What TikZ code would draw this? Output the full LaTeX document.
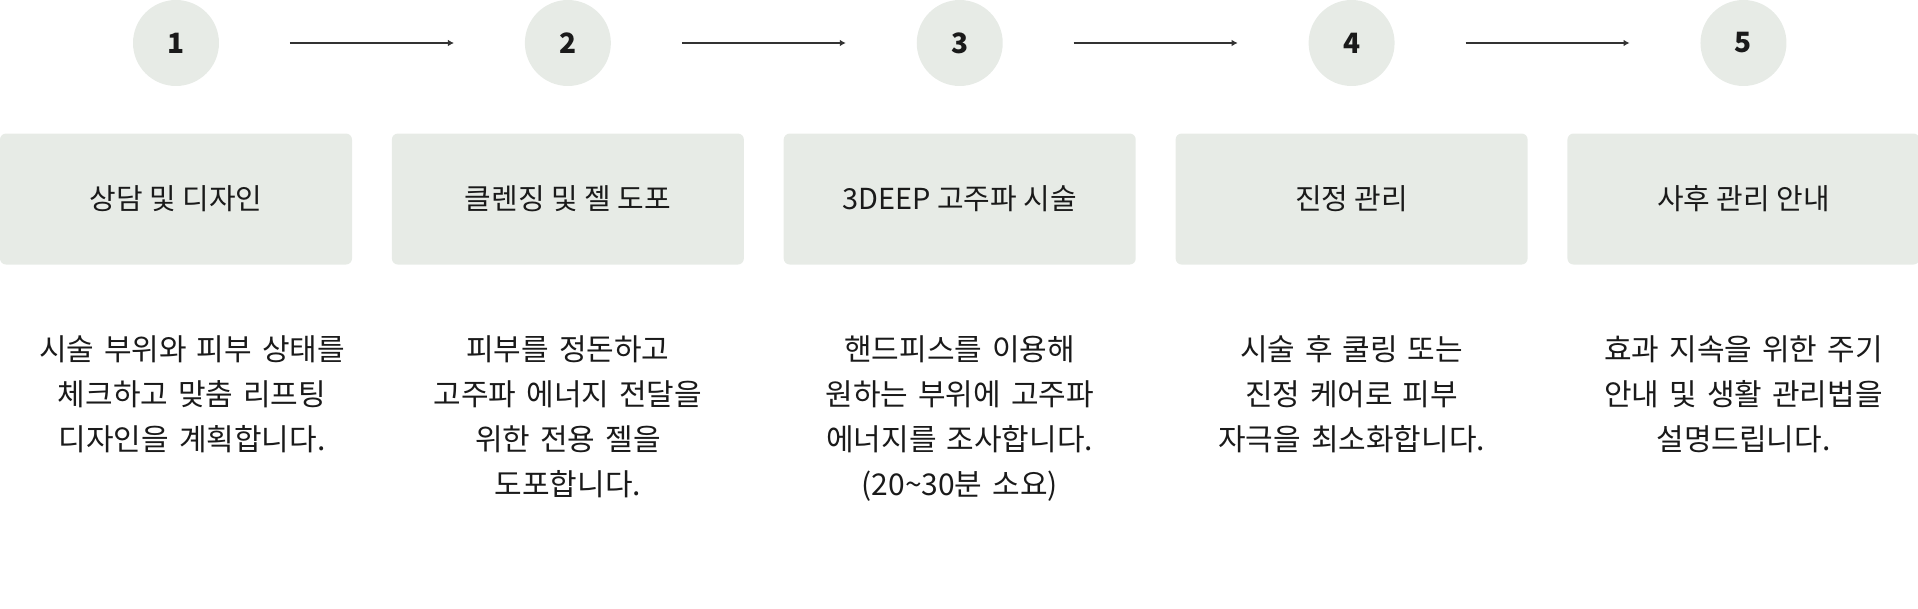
\documentclass[tikz,border=0pt]{standalone}
\usepackage{fontspec}
\setmainfont{Noto Sans CJK KR}
\usetikzlibrary{positioning, arrows.meta}
\definecolor{stepgray}{HTML}{E7EBE6}
\definecolor{inkdark}{HTML}{1A1A1A}

\begin{document}
\begin{tikzpicture}[
		node distance=229pt,
		num/.style={circle, fill=stepgray, minimum size=64.5pt, inner sep=0pt, font=\fontsize{21}{25}\selectfont\bfseries, text=inkdark},
		block/.style={rectangle, fill=stepgray, rounded corners=4.5pt, minimum width=264pt, minimum height=98.25pt, font=\fontsize{21.7}{26}\selectfont, text=inkdark},
		desc/.style={text width=264pt, align=center, inner sep=0pt, font=\fontsize{22.5}{33.75}\selectfont, text=inkdark},
		arrow/.style={line width=1.5pt, draw=black!80, -{Latex[length=4.5pt,width=5pt]}, shorten <=53pt, shorten >=53pt}
		]
		\useasboundingbox (0,0) rectangle (1438.5pt,-456.75pt);
		
		% Circles
		\node (c1) [num] at (132pt,-32.25pt) {1};
		\node (c2) [num, right=of c1] {2};
		\node (c3) [num, right=of c2] {3};
		\node (c4) [num, right=of c3] {4};
		\node (c5) [num, right=of c4] {5};
		
		% Boxes
		\node (b1) [block, below=35.25pt of c1] {상담 및 디자인};
		\node (b2) [block, below=35.25pt of c2] {클렌징 및 젤 도포};
		\node (b3) [block, below=35.25pt of c3] {3DEEP 고주파 시술};
		\node (b4) [block, below=35.25pt of c4] {진정 관리};
		\node (b5) [block, below=35.25pt of c5] {사후 관리 안내};
		
		% Descriptions
		\node (d1) [desc, below=53pt of b1, xshift=12pt] {시술 부위와 피부 상태를\\체크하고 맞춤 리프팅\\디자인을 계획합니다.};
		\node (d2) [desc, below=53pt of b2] {피부를 정돈하고\\고주파 에너지 전달을\\위한 전용 젤을\\도포합니다.};
		\node (d3) [desc, below=53pt of b3] {핸드피스를 이용해\\원하는 부위에 고주파\\에너지를 조사합니다.\\(20\textasciitilde30분 소요)};
		\node (d4) [desc, below=53pt of b4] {시술 후 쿨링 또는\\진정 케어로 피부\\자극을 최소화합니다.};
		\node (d5) [desc, below=53pt of b5] {효과 지속을 위한 주기\\안내 및 생활 관리법을\\설명드립니다.};
		
		% Arrows
		\draw [arrow] (c1) -- (c2);
		\draw [arrow] (c2) -- (c3);
		\draw [arrow] (c3) -- (c4);
		\draw [arrow] (c4) -- (c5);
		
\end{tikzpicture}
\end{document}
